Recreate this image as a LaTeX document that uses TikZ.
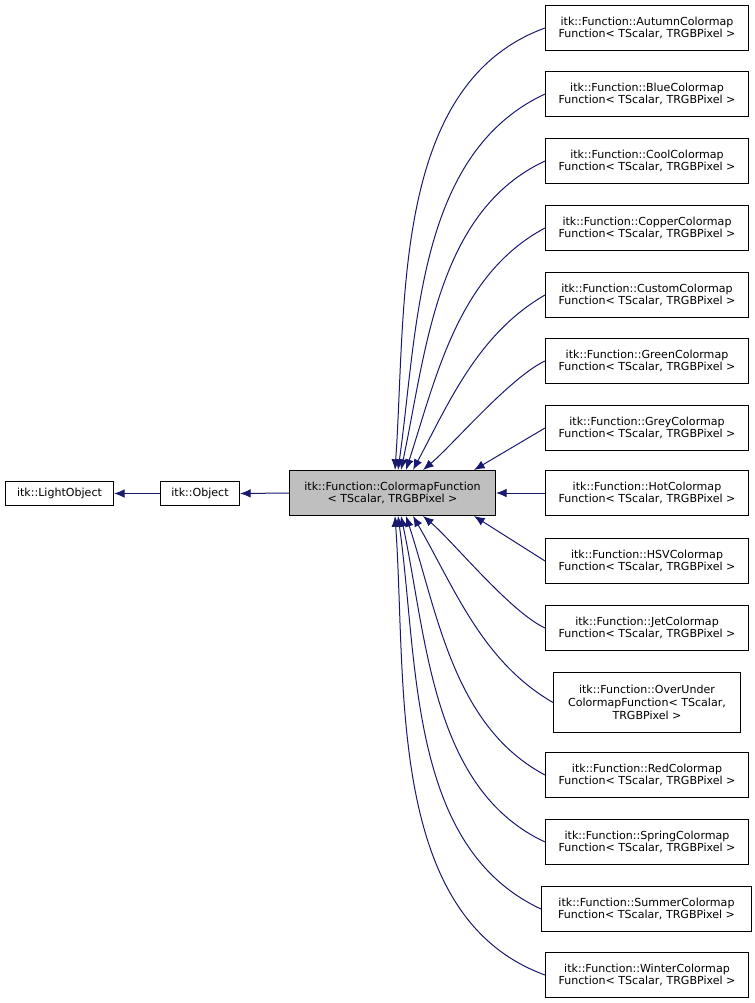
\documentclass[tikz,border=0pt]{standalone}
\usepackage{fontspec}
\setmainfont{DejaVu Sans}
\usetikzlibrary{arrows.meta,calc}
\begin{document}
\begin{tikzpicture}[x=0.75pt,y=-0.75pt,line width=0.75pt,
 box/.style={draw,rectangle,inner sep=0pt,align=center,font=\fontsize{8.3pt}{9.6pt}\selectfont,anchor=north west},
 edge/.style={draw={rgb,255:red,25;green,25;blue,112},-{Latex[length=8pt,width=6.5pt]}}]
\useasboundingbox (0,0) rectangle (755,1003);
\newcommand{\bx}[6]{\node[box,minimum width=#4*0.75pt,minimum height=#5*0.75pt] (#1) at (#2,#3) {#6};}
\bx{lo}{5}{481}{108}{24}{itk::LightObject}
\bx{ob}{160}{481}{79}{24}{itk::Object}
\node[box,fill={rgb,255:red,191;green,191;blue,191},minimum width=206*0.75pt,minimum height=45*0.75pt] (c) at (289,470) {itk::Function::ColormapFunction\\{}< TScalar, TRGBPixel >};
\bx{a}{545}{5}{203}{45}{itk::Function::AutumnColormap\\Function< TScalar, TRGBPixel >}
\bx{b}{545}{71}{203}{45}{itk::Function::BlueColormap\\Function< TScalar, TRGBPixel >}
\bx{co}{545}{138}{203}{45}{itk::Function::CoolColormap\\Function< TScalar, TRGBPixel >}
\bx{cp}{545}{205}{203}{45}{itk::Function::CopperColormap\\Function< TScalar, TRGBPixel >}
\bx{cu}{545}{272}{203}{45}{itk::Function::CustomColormap\\Function< TScalar, TRGBPixel >}
\bx{g}{545}{338}{203}{45}{itk::Function::GreenColormap\\Function< TScalar, TRGBPixel >}
\bx{gy}{545}{405}{203}{45}{itk::Function::GreyColormap\\Function< TScalar, TRGBPixel >}
\bx{h}{545}{470}{203}{45}{itk::Function::HotColormap\\Function< TScalar, TRGBPixel >}
\bx{hs}{545}{538}{203}{45}{itk::Function::HSVColormap\\Function< TScalar, TRGBPixel >}
\bx{j}{545}{605}{203}{45}{itk::Function::JetColormap\\Function< TScalar, TRGBPixel >}
\bx{ou}{553}{672}{187}{60}{itk::Function::OverUnder\\ColormapFunction< TScalar,\\TRGBPixel >}
\bx{r}{545}{752}{203}{45}{itk::Function::RedColormap\\Function< TScalar, TRGBPixel >}
\bx{sp}{545}{819}{203}{45}{itk::Function::SpringColormap\\Function< TScalar, TRGBPixel >}
\bx{su}{541}{886}{210}{45}{itk::Function::SummerColormap\\Function< TScalar, TRGBPixel >}
\bx{w}{545}{952}{203}{45}{itk::Function::WinterColormap\\Function< TScalar, TRGBPixel >}
\draw[edge] (ob.west) -- (lo.east);
\draw[edge] (c.west) -- (ob.east);
\draw[edge] (h.west) -- (c.east);
\draw[edge] (a.west) to[out=200,in=86,looseness=0.9] ($(c.north west)+(106,0)$);
\draw[edge] (b.west) to[out=205,in=82,looseness=0.9] ($(c.north west)+(109,0)$);
\draw[edge] (co.west) to[out=205,in=78,looseness=0.9] ($(c.north west)+(112,0)$);
\draw[edge] (cp.west) to[out=208,in=72,looseness=0.9] ($(c.north west)+(117,0)$);
\draw[edge] (cu.west) to[out=210,in=62,looseness=0.9] ($(c.north west)+(124,0)$);
\draw[edge] (g.west) to[out=205,in=40,looseness=0.6] ($(c.north west)+(134,0)$);
\draw[edge] (gy.west) -- ($(c.north west)+(185,0)$);
\draw[edge] (hs.west) -- ($(c.south west)+(185,0)$);
\draw[edge] (j.west) to[out=155,in=-40,looseness=0.6] ($(c.south west)+(134,0)$);
\draw[edge] (ou.west) to[out=150,in=-60,looseness=0.9] ($(c.south west)+(124,0)$);
\draw[edge] (r.west) to[out=152,in=-72,looseness=0.9] ($(c.south west)+(117,0)$);
\draw[edge] (sp.west) to[out=155,in=-78,looseness=0.9] ($(c.south west)+(112,0)$);
\draw[edge] (su.west) to[out=155,in=-82,looseness=0.9] ($(c.south west)+(109,0)$);
\draw[edge] (w.west) to[out=160,in=-86,looseness=0.9] ($(c.south west)+(106,0)$);
\end{tikzpicture}
\end{document}
